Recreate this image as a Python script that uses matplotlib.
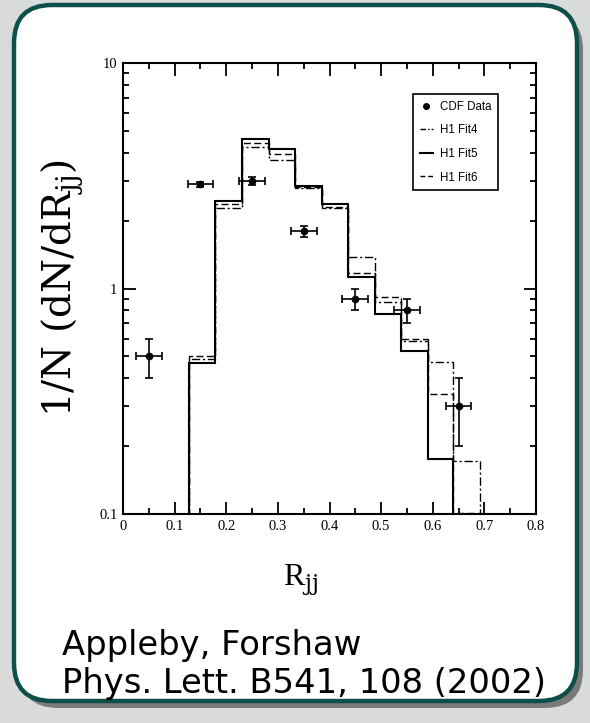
import numpy as np
import matplotlib
matplotlib.use('Agg')
import matplotlib.pyplot as plt
from matplotlib.patches import FancyBboxPatch
from matplotlib.lines import Line2D
from matplotlib.ticker import MultipleLocator, LogLocator, FixedLocator, NullFormatter

# histogram bin edges (R_jj) and the three H1 fit predictions
edges = [0.128, 0.178, 0.230, 0.282, 0.333, 0.385, 0.435, 0.488, 0.539, 0.591, 0.640, 0.692]
fit4 = [0.485, 2.28, 4.23, 3.71, 2.80, 2.27, 1.38, 0.874, 0.585, 0.474, 0.171]
fit5 = [0.469, 2.44, 4.59, 4.14, 2.86, 2.37, 1.12, 0.767, 0.528, 0.175]
fit6 = [0.50, 2.38, 4.43, 3.94, 2.82, 2.30, 1.17, 0.92, 0.595, 0.34, 0.101]

# CDF data points
cdf_x = [0.05, 0.15, 0.25, 0.35, 0.45, 0.55, 0.65]
cdf_y = [0.50, 2.9, 3.0, 1.8, 0.9, 0.8, 0.3]
cdf_yerr = [0.1, 0.08, 0.12, 0.1, 0.1, 0.1, 0.1]
cdf_xerr = [0.025] * 7

x_ticks = [0, 0.1, 0.2, 0.3, 0.4, 0.5, 0.6, 0.7, 0.8]
x_labels = ['0', '0.1', '0.2', '0.3', '0.4', '0.5', '0.6', '0.7', '0.8']
y_ticks = [0.1, 1, 10]
y_labels = ['0.1', '1', '10']

plt.rcParams['mathtext.fontset'] = 'dejavuserif'

W, H = 590, 723
fig = plt.figure(figsize=(W / 100, H / 100), dpi=100)
fig.patch.set_facecolor('#d9dbdb')

# background panel with rounded frame (pixel coordinates)
bg = fig.add_axes([0, 0, 1, 1], zorder=0)
bg.set_xlim(0, W)
bg.set_ylim(H, 0)
bg.axis('off')
shadow = FancyBboxPatch((20, 12), 563, 696, boxstyle="round,pad=0,rounding_size=38",
                        facecolor='#7a7a7a', edgecolor='none')
panel = FancyBboxPatch((14, 5), 563, 696, boxstyle="round,pad=0,rounding_size=38",
                       facecolor='white', edgecolor='#0e4f4a', linewidth=3.2)
bg.add_patch(shadow)
bg.add_patch(panel)
bg.text(62, 655, 'Appleby, Forshaw', fontsize=24.3, family='DejaVu Sans', va='baseline')
bg.text(62, 693, 'Phys. Lett. B541, 108 (2002)', fontsize=24.3, family='DejaVu Sans', va='baseline')

ax = fig.add_axes([123 / W, 1 - 514 / H, 413 / W, 451 / H], zorder=1)
ax.set_facecolor('none')
ax.set_yscale('log')
ax.set_xlim(0, 0.8)
ax.set_ylim(0.1, 10)

ax.stairs(fit4, edges, baseline=0.01, color='black', lw=1.0, linestyle=(0, (6, 2, 1.5, 2)))
ax.stairs(fit6, edges, baseline=0.01, color='black', lw=1.0, linestyle=(0, (5, 2.5)))
ax.stairs(fit5, edges[:len(fit5) + 1], baseline=0.01, color='black', lw=1.5)

ax.errorbar(cdf_x, cdf_y, yerr=cdf_yerr, xerr=cdf_xerr, fmt='o', color='black',
            ms=4.5, elinewidth=1.2, capsize=3, capthick=1.2)

for s in ax.spines.values():
    s.set_linewidth(1.5)

ax.xaxis.set_major_locator(FixedLocator(x_ticks))
ax.set_xticklabels(x_labels)
ax.xaxis.set_minor_locator(MultipleLocator(0.05))
ax.yaxis.set_major_locator(FixedLocator(y_ticks))
ax.set_yticklabels(y_labels)
ax.yaxis.set_minor_locator(LogLocator(base=10, subs=np.arange(2, 10)))
ax.yaxis.set_minor_formatter(NullFormatter())
ax.tick_params(which='both', direction='in', top=True, right=True, width=1.3,
               labelsize=10.5, pad=4)
ax.tick_params(which='major', length=9)
ax.tick_params(which='minor', length=4.5)
for lab in ax.get_xticklabels() + ax.get_yticklabels():
    lab.set_family('Liberation Serif')

ax.set_ylabel(r'1/N (dN/dR$_{\rm jj}$)', fontsize=28, family='DejaVu Serif')
ax.yaxis.set_label_coords(-0.093, 0.5)
ax.set_xlabel(r'R$_{\rm jj}$', fontsize=23, family='Liberation Serif', va='top')
ax.xaxis.set_label_coords(0.43, -0.108)

handles = [
    Line2D([], [], marker='o', ls='none', color='black', ms=4),
    Line2D([], [], color='black', lw=1.0, ls=(0, (4, 1.5, 1, 1.5))),
    Line2D([], [], color='black', lw=1.5),
    Line2D([], [], color='black', lw=1.0, ls=(0, (3.5, 2))),
]
leg = ax.legend(handles, ['CDF Data', 'H1 Fit4', 'H1 Fit5', 'H1 Fit6'],
                loc='upper left', bbox_to_anchor=((413 - 123) / 413, (514 - 94) / 451),
                fancybox=False, edgecolor='black', framealpha=1, handlelength=1.1,
                handletextpad=0.6, borderpad=0.6, labelspacing=1.0, borderaxespad=0,
                prop={'family': 'Liberation Sans', 'size': 8.3})
leg.get_frame().set_linewidth(1.2)

fig.savefig('out.png', dpi=100, facecolor=fig.get_facecolor())
